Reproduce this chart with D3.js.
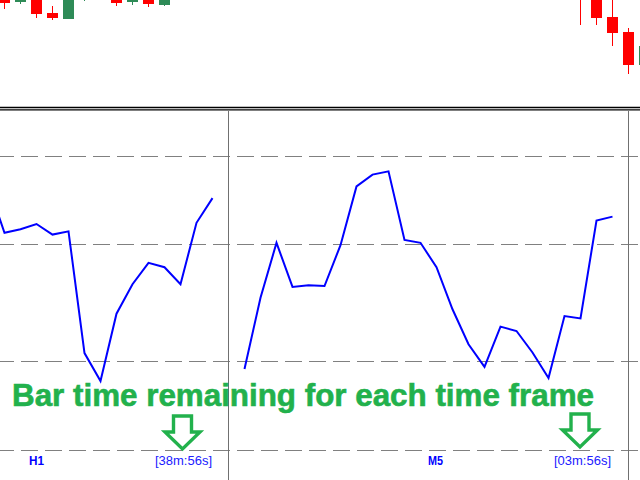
<!DOCTYPE html>
<html>
<head>
<meta charset="utf-8">
<script src="https://cdn.jsdelivr.net/npm/d3@7"></script>
<style>
  html, body { margin: 0; padding: 0; background: #fff; }
  svg { display: block; }
</style>
</head>
<body>
<div id="chart"></div>
<script>
// Price panel candles (bar index, open/high/low/close)
const candleIdx   = [0, 1, 2, 3, 4, 5, 7, 8, 9, 10, 36, 37, 38, 39, 40];
const candleOpen  = [1.09506, 1.09498, 1.09504, 1.09487, 1.09481, 1.09501, 1.09505, 1.09498, 1.09503, 1.09495, 1.09515, 1.09506, 1.09483, 1.09468, 1.09435];
const candleHigh  = [1.09510, 1.09508, 1.09508, 1.09494, 1.09506, 1.09510, 1.09509, 1.09509, 1.09507, 1.09508, 1.09525, 1.09510, 1.09502, 1.09472, 1.09460];
const candleLow   = [1.09491, 1.09496, 1.09482, 1.09480, 1.09481, 1.09499, 1.09494, 1.09495, 1.09493, 1.09494, 1.09475, 1.09475, 1.09454, 1.09426, 1.09430];
const candleClose = [1.09497, 1.09505, 1.09486, 1.09482, 1.09503, 1.09508, 1.09497, 1.09506, 1.09496, 1.09504, 1.09501, 1.09482, 1.09467, 1.09435, 1.09454];

// Indicator window: H1 and M5 lines
const h1Idx    = [-1, 0, 1, 2, 3, 4, 5, 6, 7, 8, 9, 10, 11, 12, 13];
const h1Values = [89.8, 73.7, 74.9, 76.7, 73.1, 74.2, 32.8, 23.3, 46.2, 56.2, 63.5, 62.0, 56.2, 77.1, 85.5];
const m5Idx    = d3.range(15, 39);
const m5Values = [27.4, 51.6, 70.3, 55.3, 55.9, 55.6, 69.5, 89.5, 93.5, 94.6, 71.3, 70.3,
                  62.0, 47.7, 35.8, 28.1, 41.8, 40.3, 33.0, 24.3, 45.4, 44.6, 77.9, 79.2];
const gridLevels = [0, 30, 70, 100];

// Timeframe labels
const frameNames = ["H1", "M5"];
const frameTimes = ["[38m:56s]", "[03m:56s]"];
const title = "Bar time remaining for each time frame";

const width = 640, height = 480;
const green = "rgb(34,177,76)";

const svg = d3.select("#chart")
    .append("svg")
    .attr("width", width)
    .attr("height", height);

svg.append("rect").attr("width", width).attr("height", height).attr("fill", "#fff");

// Shared bar position scale (16px per bar)
const x = d3.scaleLinear().domain([0, 40]).range([4.5, 644.5]);

// ---- Price panel ----
const yTop = d3.scaleLinear().domain([1.09500, 1.09400]).range([0, 100]);

svg.append("clipPath").attr("id", "clipTop")
    .append("rect").attr("width", width).attr("height", 106);

const candles = candleIdx.map((k, i) => ({
    k, o: candleOpen[i], h: candleHigh[i], l: candleLow[i], c: candleClose[i]
}));

const gTop = svg.append("g").attr("clip-path", "url(#clipTop)")
    .attr("shape-rendering", "crispEdges");

gTop.selectAll(".wick")
    .data(candles)
    .join("line")
    .attr("x1", d => x(d.k))
    .attr("x2", d => x(d.k))
    .attr("y1", d => yTop(d.h))
    .attr("y2", d => yTop(d.l))
    .attr("stroke", d => d.c >= d.o ? "seagreen" : "#ff0000")
    .attr("stroke-width", 1);

gTop.selectAll(".body")
    .data(candles)
    .join("rect")
    .attr("x", d => x(d.k) - 5.5)
    .attr("width", 11)
    .attr("y", d => yTop(Math.max(d.o, d.c)))
    .attr("height", d => Math.abs(yTop(d.o) - yTop(d.c)))
    .attr("fill", d => d.c >= d.o ? "seagreen" : "#ff0000");

// Window separator (double line)
svg.append("line").attr("x1", 0).attr("x2", width).attr("y1", 107.5).attr("y2", 107.5)
    .attr("stroke", "#000").attr("stroke-width", 1.3);
svg.append("line").attr("x1", 0).attr("x2", width).attr("y1", 109.8).attr("y2", 109.8)
    .attr("stroke", "#000").attr("stroke-width", 1.3);

// ---- Indicator panel ----
const yLow = d3.scaleLinear().domain([0, 100]).range([449.5, 155.5]);

svg.append("clipPath").attr("id", "clipLow")
    .append("rect").attr("y", 111).attr("width", width).attr("height", height - 111);

const gLow = svg.append("g").attr("clip-path", "url(#clipLow)");

gLow.selectAll(".grid")
    .data(gridLevels)
    .join("line")
    .attr("x1", -3)
    .attr("x2", width)
    .attr("y1", d => Math.round(yLow(d)) + 0.5)
    .attr("y2", d => Math.round(yLow(d)) + 0.5)
    .attr("stroke", "#808080")
    .attr("stroke-width", 1)
    .attr("stroke-dasharray", "17,7");

// Vertical separators between the two frames
[228.5, 628.5].forEach(px => {
    gLow.append("line")
        .attr("x1", px).attr("x2", px)
        .attr("y1", 111).attr("y2", height)
        .attr("stroke", "#707070").attr("stroke-width", 1);
});

const line = d3.line()
    .x(d => x(d[0]))
    .y(d => yLow(d[1]));

gLow.append("path")
    .datum(h1Idx.map((k, i) => [k, h1Values[i]]))
    .attr("d", line)
    .attr("fill", "none")
    .attr("stroke", "#0000ff")
    .attr("stroke-width", 2);

gLow.append("path")
    .datum(m5Idx.map((k, i) => [k, m5Values[i]]))
    .attr("d", line)
    .attr("fill", "none")
    .attr("stroke", "#0000ff")
    .attr("stroke-width", 2);

// Title text
svg.append("text")
    .attr("x", 12)
    .attr("y", 406)
    .attr("font-family", "'Liberation Sans', Arial, sans-serif")
    .attr("font-weight", "bold")
    .attr("font-size", 31)
    .attr("textLength", 582)
    .attr("lengthAdjust", "spacingAndGlyphs")
    .attr("fill", green)
    .attr("stroke", green)
    .attr("stroke-width", 0.6)
    .text(title);

// Hollow down arrows pointing at the countdowns
const arrowX = [182.5, 580];
const arrowTop = [416, 414];
const arrowPath = (cx, top) => {
    const p = d3.path();
    p.moveTo(cx - 9, top);
    p.lineTo(cx + 9, top);
    p.lineTo(cx + 9, top + 16);
    p.lineTo(cx + 17.5, top + 16);
    p.lineTo(cx, top + 33);
    p.lineTo(cx - 17.5, top + 16);
    p.lineTo(cx - 9, top + 16);
    p.closePath();
    return p.toString();
};
svg.selectAll(".arrow")
    .data(arrowX)
    .join("path")
    .attr("d", (d, i) => arrowPath(d, arrowTop[i]))
    .attr("fill", "#fff")
    .attr("stroke", green)
    .attr("stroke-width", 3.4)
    .attr("stroke-linejoin", "miter");

// Frame names and remaining time
const nameX = [29, 428];
const timeX = [155, 554];

svg.selectAll(".fname")
    .data(frameNames)
    .join("text")
    .attr("x", (d, i) => nameX[i])
    .attr("y", 465)
    .attr("font-family", "'Liberation Sans', Arial, sans-serif")
    .attr("font-weight", "bold")
    .attr("font-size", 13)
    .attr("textLength", 15)
    .attr("lengthAdjust", "spacingAndGlyphs")
    .attr("fill", "#0000ff")
    .text(d => d);

svg.selectAll(".ftime")
    .data(frameTimes)
    .join("text")
    .attr("x", (d, i) => timeX[i])
    .attr("y", 465)
    .attr("font-family", "'Liberation Sans', Arial, sans-serif")
    .attr("font-size", 13)
    .attr("textLength", 57)
    .attr("lengthAdjust", "spacingAndGlyphs")
    .attr("fill", "#2020ff")
    .text(d => d);
</script>
</body>
</html>
